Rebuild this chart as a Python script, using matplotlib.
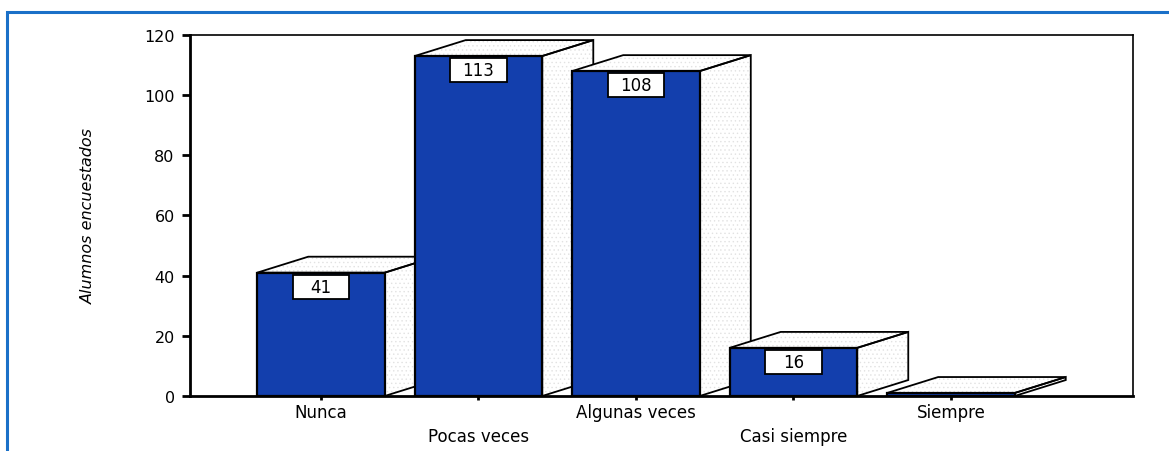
import matplotlib.pyplot as plt
from matplotlib.patches import Polygon, Rectangle

categorias = ["Nunca", "Pocas veces", "Algunas veces", "Casi siempre", "Siempre"]
alumnos = [41, 113, 108, 16, 1]
etiquetas = ["41", "113", "108", "16", ""]

azul = "#133fad"
plt.rcParams["font.family"] = ["DejaVu Sans"]
plt.rcParams["hatch.linewidth"] = 0.5

fig = plt.figure(figsize=(11.69, 4.52), dpi=100)
ax = fig.add_axes([0.1625, 0.1217, 0.8067, 0.7987])

# marco azul exterior
fig.patches.append(Rectangle((0.006, -0.1), 1.2, 1.071, transform=fig.transFigure,
                             fill=False, edgecolor="#1a70c8", linewidth=2.2))

w = 0.81      # ancho de la barra
dx = 0.324    # profundidad en x
dy = 5.3      # profundidad en y
caja_w, caja_h = 0.36, 8.0   # caja de la etiqueta

for i, h in enumerate(alumnos):
    x0, x1 = i - w / 2, i + w / 2
    z = 2 + i * 2
    lado = [(x1, 0), (x1 + dx, dy), (x1 + dx, h + dy), (x1, h)]
    tapa = [(x0, h), (x0 + dx, h + dy), (x1 + dx, h + dy), (x1, h)]
    for cara in (lado, tapa):
        ax.add_patch(Polygon(cara, closed=True, facecolor="white", edgecolor="#e2e2e2",
                             hatch="....", linewidth=0, zorder=z))
        ax.add_patch(Polygon(cara, closed=True, facecolor="none", edgecolor="black",
                             linewidth=1.3, zorder=z + 0.5))
    ax.bar(i, h, width=w, color=azul, edgecolor="black", linewidth=1.6, zorder=z + 1)
    if etiquetas[i]:
        ax.add_patch(Rectangle((i - caja_w / 2, h - 0.7 - caja_h), caja_w, caja_h,
                               facecolor="white", edgecolor="black", linewidth=1.3,
                               zorder=z + 1.2))
        ax.text(i, h - 0.7 - caja_h / 2, etiquetas[i], ha="center", va="center",
                fontsize=12, zorder=z + 1.5)

ax.set_xlim(-0.832, 5.156)
ax.set_ylim(0, 120)
ax.set_yticks(range(0, 121, 20))
ax.tick_params(axis="y", direction="out", length=6, width=2, labelsize=11.5, pad=5)

ax.set_xticks([0, 2, 4], labels=[categorias[0], categorias[2], categorias[4]])
ax.set_xticks([1, 3], labels=[categorias[1], categorias[3]], minor=True)
ax.tick_params(axis="x", which="both", direction="out", length=3, width=2, labelsize=12)
ax.tick_params(axis="x", which="major", pad=2)
ax.tick_params(axis="x", which="minor", pad=19)

for lado_eje in ("left", "bottom"):
    ax.spines[lado_eje].set_linewidth(2)
for lado_eje in ("top", "right"):
    ax.spines[lado_eje].set_linewidth(1.2)

ax.set_ylabel("Alumnos encuestados", fontsize=11.5, fontstyle="italic")
ax.yaxis.set_label_coords(-0.1, 0.5)

fig.savefig("out.png", dpi=100)
